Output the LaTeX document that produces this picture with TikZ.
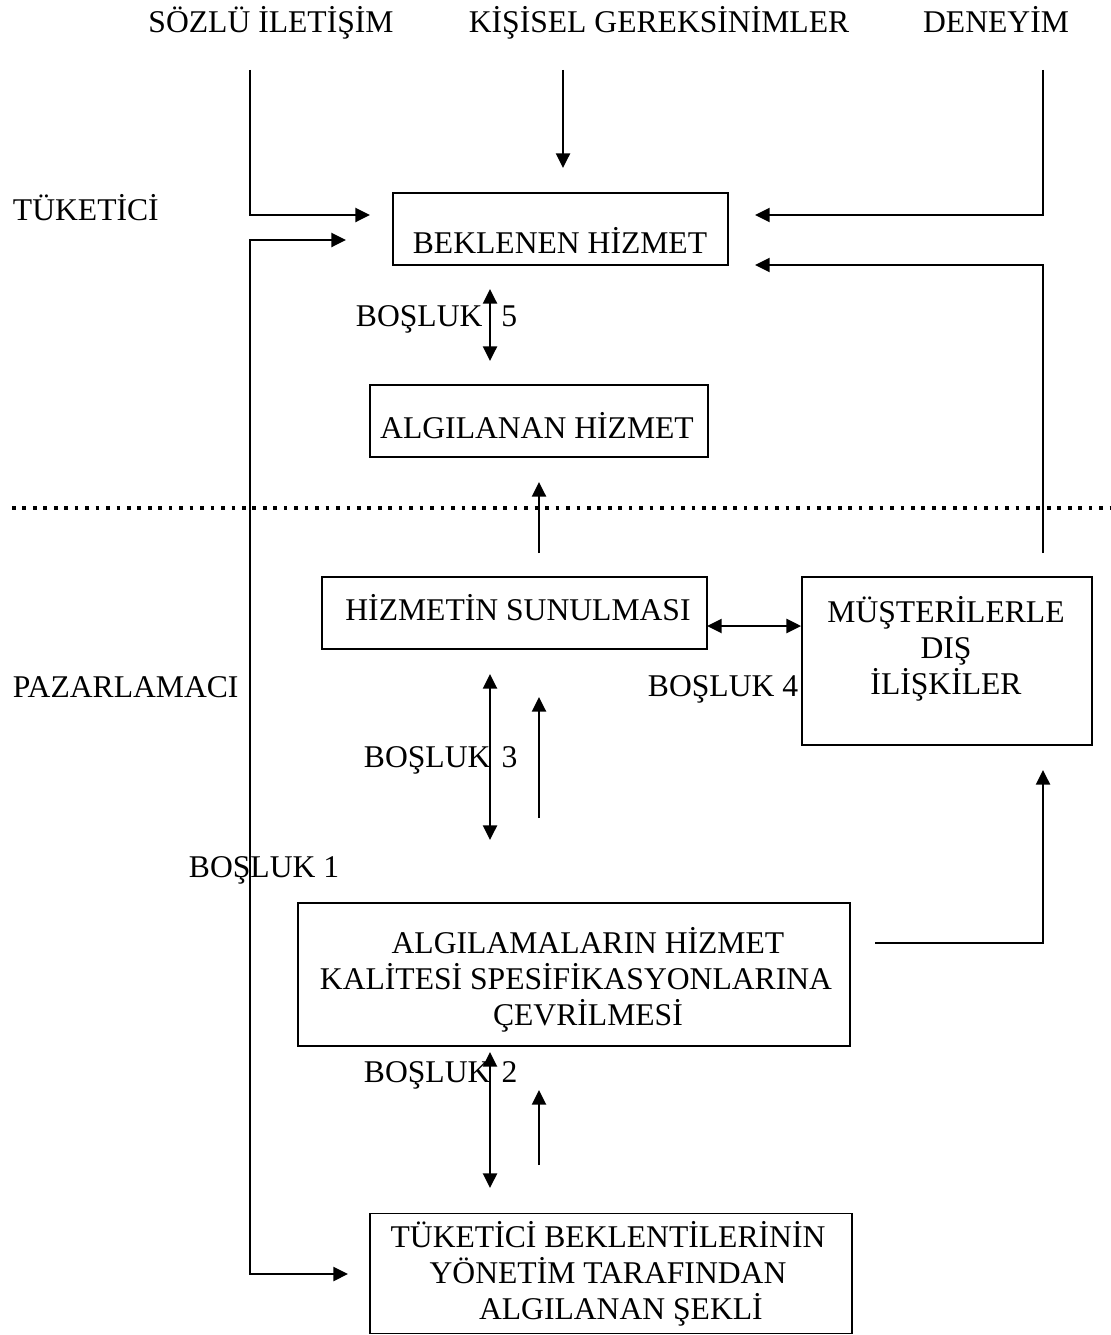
\documentclass[tikz,border=0pt]{standalone}
\usepackage{fontspec}
\setmainfont{Liberation Serif}
\usetikzlibrary{arrows.meta}

\tikzset{
  box/.style={draw,inner sep=0pt},
  lbl/.style={anchor=base west,inner sep=0pt},
  ttl/.style={anchor=base,inner sep=0pt},
  txt/.style={align=center,inner sep=0pt},
  dotline/.style={line width=2.2pt,dash pattern=on 2.1pt off 3.85pt}
}

\begin{document}
\begin{tikzpicture}[x=0.02cm,y=-0.02cm,>={Triangle[length=8.3pt,width=8pt]},line width=1.1pt,font=\fontsize{18}{20.4}\selectfont]
  \useasboundingbox (0,0) rectangle (1111,1335);
  % inputs on top
  \node[ttl] (sozlu) at (271,33) {SÖZLÜ İLETİŞİM};
  \node[ttl] (kisisel) at (659,33) {KİŞİSEL GEREKSİNİMLER};
  \node[ttl] (deneyim) at (996,33) {DENEYİM};
  \node[lbl] (tuketici) at (12,220) {TÜKETİCİ};
  \node[lbl] (pazar) at (12,697) {PAZARLAMACI};
  % boxes
  \node[box,minimum width=6.7cm,minimum height=1.44cm] (bh) at (560.5,229) {};
  \node[ttl] (bhtext) at (560,253) {BEKLENEN HİZMET};
  \node[box,minimum width=6.76cm,minimum height=1.44cm] (ah) at (539,421) {};
  \node[ttl] (ahtext) at (537,438) {ALGILANAN HİZMET};
  \node[box,minimum width=7.7cm,minimum height=1.44cm] (hs) at (514.5,613) {};
  \node[ttl] (hstext) at (518,620) {HİZMETİN SUNULMASI};
  \node[box,minimum width=5.8cm,minimum height=3.36cm] (md) at (947,661) {};
  \node[txt] (mdtext) at (946,649) {MÜŞTERİLERLE\\DIŞ\\İLİŞKİLER};
  \node[box,minimum width=11.04cm,minimum height=2.86cm] (ak) at (574,974.5) {};
  \node[txt] (aktext) at (576,980) {\hspace*{13.6pt}ALGILAMALARIN HİZMET\\KALİTESİ SPESİFİKASYONLARINA\\\hspace*{13.6pt}ÇEVRİLMESİ};
  \node[box,minimum width=9.64cm,minimum height=2.4cm] (tb) at (611,1273.5) {};
  \node[txt] (tbtext) at (608,1274) {TÜKETİCİ BEKLENTİLERİNİN\\YÖNETİM TARAFINDAN\\\hspace*{14.7pt}ALGILANAN ŞEKLİ};
  % gap labels
  \node[lbl] (b5) at (355,326) {BOŞLUK\hspace{10.8pt}5};
  \node[lbl] (b4) at (647,696) {BOŞLUK 4};
  \node[lbl] (b3) at (363,767) {BOŞLUK\hspace{6.3pt}3};
  \node[lbl] (b1) at (188,877) {BOŞLUK 1};
  \node[lbl] (b2) at (363,1082) {BOŞLUK\hspace{6.3pt}2};
  % free ends
  \coordinate (s1) at (250,70);
  \coordinate (s2) at (250,215);
  \coordinate (s3) at (370,215);
  \coordinate (k1) at (563,70);
  \coordinate (k2) at (563,168);
  \coordinate (d1) at (1043,70);
  \coordinate (d2) at (1043,215);
  \coordinate (d3) at (755,215);
  \coordinate (f1) at (346,240);
  \coordinate (f2) at (250,240);
  \coordinate (f3) at (250,1274);
  \coordinate (f4) at (348,1274);
  \coordinate (g5a) at (490,289);
  \coordinate (g5b) at (490,361);
  \coordinate (u1a) at (539,553);
  \coordinate (u1b) at (539,482);
  \coordinate (m1) at (1043,553);
  \coordinate (m2) at (1043,265);
  \coordinate (m3) at (755,265);
  \coordinate (g4) at (707,626);
  \coordinate (g3a) at (490,674);
  \coordinate (g3b) at (490,840);
  \coordinate (u2a) at (539,818);
  \coordinate (u2b) at (539,697);
  \coordinate (a1) at (875,943);
  \coordinate (a2) at (1043,943);
  \coordinate (a3) at (1043,770);
  \coordinate (g2a) at (490,1052);
  \coordinate (g2b) at (490,1188);
  \coordinate (u3a) at (539,1165);
  \coordinate (u3b) at (539,1090);
  \coordinate (dotL) at (12,508);
  \coordinate (dotR) at (1111,508);
  % consumer / marketer border
  \draw[dotline] (dotL)--(dotR);
  % arrows
  \draw[->] (s1)--(s2)--(s3);
  \draw[->] (k1)--(k2);
  \draw[->] (d1)--(d2)--(d3);
  \draw[<->] (f1)--(f2)--(f3)--(f4);
  \draw[<->] (g5a)--(g5b);
  \draw[->] (u1a)--(u1b);
  \draw[->] (m1)--(m2)--(m3);
  \draw[<->] (g4)--(g4 -| md.west);
  \draw[<->] (g3a)--(g3b);
  \draw[->] (u2a)--(u2b);
  \draw[->] (a1)--(a2)--(a3);
  \draw[<->] (g2a)--(g2b);
  \draw[->] (u3a)--(u3b);
\end{tikzpicture}
\end{document}
